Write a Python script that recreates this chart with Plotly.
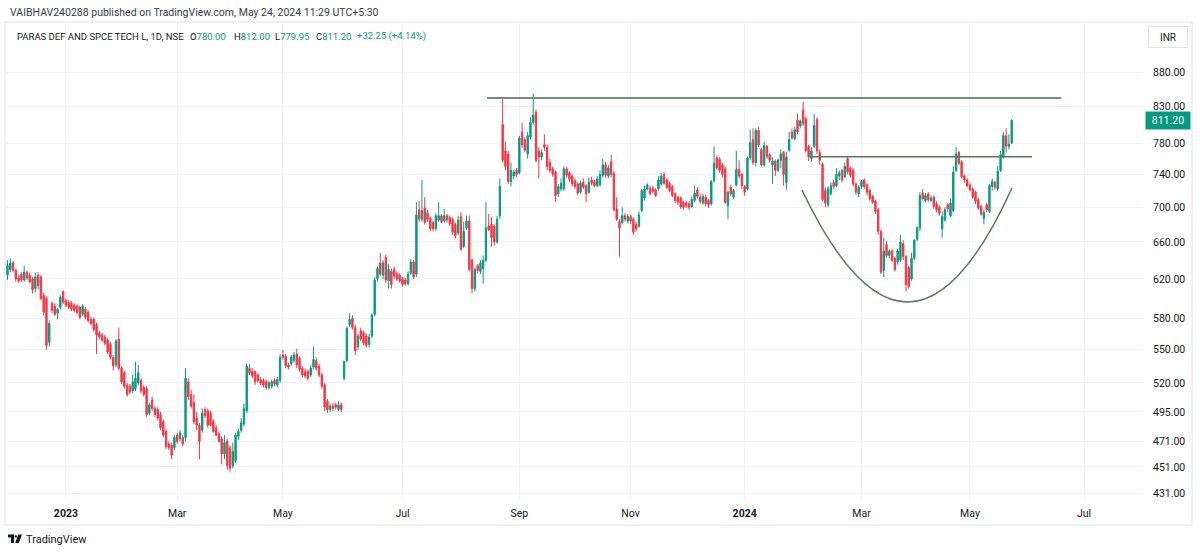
import numpy as np
import plotly.graph_objects as go

# ---------------- data (daily candles Dec-2022 .. 24-May-2024) ----------------
open_px = [
    624,630,637,629,621,625,619,627,624,620,610,624,622,603,600,557,595,592,585,591,607,
    598,596,595,593,592,591,584,589,586,579,579,574,566,564,562,559,555,543,536,560,533,529,518,517,513,515,520,522,516,515,494,505,498,497,493,487,479,469,468,466,476,473,474,474,521,510,503,490,484,480,497,496,
    494,487,482,477,473,461,471,466,452,456,475,480,485,496,533,530,530,527,523,522,521,516,517,522,518,522,545,544,536,537,540,546,542,533,530,530,527,534,540,535,527,518,504,497,500,501,497,501,
    524,540,574,580,571,553,568,566,563,555,563,584,620,637,624,643,618,628,630,626,624,620,619,615,
    626,638,625,697,686,699,693,687,682,675,685,690,684,690,688,686,680,670,689,655,676,684,640,610,634,628,631,640,678,680,678,660,690,805,770,766,731,738,745,742,
    795,785,766,788,808,822,770,762,778,775,755,747,743,716,722,722,747,742,738,732,728,718,730,726,718,733,731,726,727,739,752,738,
    756,741,698,683,682,690,684,689,686,680,678,696,711,722,723,723,721,722,728,740,733,729,725,716,712,711,706,705,704,701,
    708,721,712,705,712,708,704,732,761,759,752,747,702,724,712,727,746,740,725,722,761,785,755,797,772,752,776,765,752,757,
    745,758,768,730,771,795,786,811,803,825,813,776,
    760,776,812,768,753,720,703,716,730,726,738,745,737,760,748,745,728,716,725,733,727,720,713,707,697,672,629,657,645,650,
    642,638,640,658,644,632,620,642,663,676,717,708,716,708,712,704,700,675,685,703,690,696,745,768,756,738,733,727,722,718,
    709,701,687,703,695,725,730,722,745,763,790,776,780,
]
high_px = [
    640,642,639,631,625,627,634,629,627,622,626,627,624,606,602,578,597,595,590,603,608,
    600,598,597,595,594,593,594,591,588,581,581,576,568,566,564,561,557,545,560,571,535,531,520,519,527,539,536,524,518,517,503,508,500,499,495,489,481,471,470,476,478,480,476,533,524,514,510,495,486,498,499,498,
    496,489,484,479,475,476,473,468,470,478,481,490,502,537,537,533,531,529,525,524,523,522,523,524,525,546,550,546,538,545,548,551,544,535,533,532,536,553,543,537,529,520,506,502,503,503,504,503,
    540,572,585,583,574,565,571,568,565,565,585,622,633,648,640,646,636,631,633,628,626,622,621,628,
    641,640,706,707,733,712,697,689,684,693,706,692,698,692,690,688,682,690,694,683,690,690,642,632,636,640,645,706,692,688,680,690,735,843,782,770,755,746,748,790,
    808,788,795,815,848,826,775,772,792,778,760,750,745,728,735,750,750,744,740,735,731,732,735,728,736,737,733,738,745,760,756,752,
    765,744,712,686,700,693,692,691,688,683,695,722,726,729,726,726,723,738,742,743,735,731,727,718,714,713,708,708,707,712,
    726,724,716,716,715,710,733,776,764,762,755,750,720,727,722,770,758,742,727,763,798,800,800,802,774,782,778,767,762,759,
    760,772,770,769,795,800,802,820,812,837,816,778,
    775,820,815,772,755,724,725,730,733,748,745,747,755,762,750,748,730,727,733,735,729,722,715,709,699,674,665,661,652,652,
    644,652,668,662,646,634,648,663,678,718,722,717,718,714,714,707,702,695,700,705,710,750,775,770,758,740,735,729,724,720,
    711,703,697,705,728,735,732,751,770,795,800,792,812,
]
low_px = [
    619,627,627,617,616,617,617,619,616,605,606,609,598,583,550,553,585,582,579,589,594,
    591,589,587,586,584,579,582,579,576,573,567,546,560,557,554,546,541,531,534,531,519,515,508,510,511,513,518,511,508,491,492,496,491,488,480,474,465,464,457,464,469,471,467,471,505,498,485,480,457,478,490,482,
    483,478,475,470,453,457,449,447,450,454,472,478,483,494,527,524,518,520,518,516,514,514,515,517,516,520,541,533,532,535,538,533,530,525,524,522,525,532,531,525,515,496,494,495,496,497,496,495,
    522,538,572,569,545,550,558,554,552,552,561,582,618,623,620,616,610,610,620,618,616,612,613,613,
    624,620,622,683,683,680,683,672,672,673,683,681,682,682,678,668,664,668,650,653,674,628,605,607,626,625,615,638,672,655,656,658,686,755,745,728,725,734,737,740,
    774,768,760,785,805,755,735,758,770,745,742,737,706,712,719,720,736,731,725,722,714,716,722,706,716,726,724,724,725,736,736,735,
    736,695,684,644,680,683,681,680,668,672,676,694,708,720,714,717,712,720,726,727,722,718,712,705,703,698,697,699,697,699,
    706,710,704,703,701,699,702,730,746,742,736,704,686,713,710,725,735,722,714,720,758,752,750,775,750,750,760,755,728,738,
    743,748,726,721,769,785,784,792,800,803,768,757,
    756,774,766,752,707,700,700,714,722,724,733,730,735,740,736,725,715,712,722,722,714,708,704,692,668,625,622,643,642,638,
    628,635,638,640,607,610,618,640,661,672,708,706,706,706,698,694,690,665,683,694,688,694,743,752,735,730,724,719,710,704,
    697,690,680,694,693,720,721,720,743,760,768,772,779.95,
]
close_px = [
    634,637,629,620,618,619,627,621,617,609,622,613,600,586,554,575,588,584,589,601,596,
    593,591,589,588,586,581,592,581,578,575,569,564,562,559,556,548,543,535,558,533,521,517,510,512,521,524,529,513,510,493,501,498,493,490,482,476,467,466,460,474,471,478,469,524,508,500,487,484,471,494,492,484,
    484,479,476,471,461,470,452,450,463,476,479,486,498,535,529,526,521,522,520,518,516,520,521,519,523,543,543,535,534,543,545,536,532,527,526,524,533,541,533,527,517,499,497,500,498,499,501,497,
    539,570,579,571,549,563,560,556,554,562,583,619,631,625,637,619,630,614,623,620,618,614,615,625,
    638,622,691,686,696,682,686,675,675,690,690,683,690,685,681,671,667,685,652,672,684,630,610,630,629,637,640,676,674,665,660,686,725,758,750,731,745,743,740,787,
    778,771,790,808,818,758,762,768,775,750,745,740,714,725,729,747,739,734,728,725,717,729,724,716,730,729,726,734,740,752,739,748,
    740,697,686,676,690,686,689,684,671,675,691,720,722,727,716,719,714,733,738,729,724,720,714,708,706,700,700,702,700,709,
    717,713,707,713,704,703,731,754,748,745,740,706,718,716,720,746,738,726,718,761,781,755,797,778,752,777,763,758,757,745,
    758,766,740,762,785,787,798,795,810,806,770,762,
    770,804,770,758,709,705,722,726,725,740,742,733,750,743,739,728,718,724,731,725,718,710,706,695,672,627,650,645,650,640,
    630,650,660,644,614,612,642,662,676,714,710,714,709,711,701,697,693,689,697,698,705,743,766,754,737,733,726,721,712,707,
    699,692,694,697,726,731,724,744,765,790,776,778.95,811.2,
]

# time axis: bar index of the first session of each labelled month
time_tick_index = [21, 61, 99, 142, 184, 224, 265, 307, 346, 387]
time_tick_label = ["2023", "Mar", "May", "Jul", "Sep", "Nov", "2024", "Mar", "May", "Jul"]
price_ticks = [431, 451, 471, 495, 520, 550, 580, 620, 660, 700, 740, 780, 830, 880]

symbol_title = "PARAS DEF AND SPCE TECH L, 1D, NSE"
publisher = "VAIBHAV240288 published on TradingView.com, May 24, 2024 11:29 UTC+5:30"

# hand-drawn study lines (price levels and cup curve anchors: bar index, price)
resistance_level = 842.0
resistance_span = (172.4, 378.8)
neckline_level = 762.5
neckline_span = (288.5, 368.3)
cup_anchor_left = (285.6, 720.7)
cup_anchor_ctrl = (324.1, 492.5)
cup_anchor_right = (361.1, 723.2)

n = len(close_px)
assert len(open_px) == n and len(high_px) == n and len(low_px) == n
x = np.arange(n)

# ---------------- layout geometry ----------------
W, H = 1200, 553
ML, MR, MT, MB = 5, 57, 22, 53
PW, PH = W - ML - MR, H - MT - MB
Y_LO, Y_HI = np.log10(426.5), np.log10(957.7)
X_LO, X_HI = -0.9, 408.2

UP, DN = "#089981", "#F23645"
FONT = "Roboto"
TXT = "#131722"


def pxx(px):
    return (px - ML) / PW


def pxy(py):
    return (H - MB - py) / PH


def yp(price):
    return (np.log10(price) - Y_LO) / (Y_HI - Y_LO)


fig = go.Figure()
fig.add_trace(go.Candlestick(
    x=x, open=open_px, high=high_px, low=low_px, close=close_px,
    increasing=dict(line=dict(color=UP, width=1), fillcolor=UP),
    decreasing=dict(line=dict(color=DN, width=1), fillcolor=DN),
    whiskerwidth=0, hoverinfo="skip", showlegend=False,
))

line_col = "#55795a"
shapes = [
    # chart frame
    dict(type="rect", xref="paper", yref="paper", x0=0, x1=pxx(1192), y0=pxy(525), y1=1,
         line=dict(color="#e0e3eb", width=1), fillcolor="rgba(0,0,0,0)", layer="below"),
    dict(type="line", xref="x", yref="paper", x0=resistance_span[0], x1=resistance_span[1],
         y0=yp(resistance_level), y1=yp(resistance_level), line=dict(color="#6f9270", width=2)),
    dict(type="line", xref="x", yref="paper", x0=neckline_span[0], x1=neckline_span[1],
         y0=yp(neckline_level), y1=yp(neckline_level), line=dict(color=line_col, width=1.5)),
    dict(type="path", xref="x", yref="paper",
         path=(f"M {cup_anchor_left[0]},{yp(cup_anchor_left[1])} "
               f"Q {cup_anchor_ctrl[0]},{yp(cup_anchor_ctrl[1])} "
               f"{cup_anchor_right[0]},{yp(cup_anchor_right[1])}"),
         line=dict(color=line_col, width=1.5)),
]

# TradingView logo (small glyph) at the bottom-left
logo = "#131722"
shapes += [
    dict(type="path", xref="paper", yref="paper",
         path=(f"M {pxx(8)},{pxy(534.5)} L {pxx(14)},{pxy(534.5)} L {pxx(14)},{pxy(543)} "
               f"L {pxx(11)},{pxy(543)} L {pxx(11)},{pxy(537.5)} L {pxx(8)},{pxy(537.5)} Z"),
         fillcolor=logo, line=dict(width=0)),
    dict(type="circle", xref="paper", yref="paper", x0=pxx(14.6), x1=pxx(17), y0=pxy(537.6), y1=pxy(535.2),
         fillcolor=logo, line=dict(width=0)),
    dict(type="path", xref="paper", yref="paper",
         path=(f"M {pxx(18.2)},{pxy(534.5)} L {pxx(22)},{pxy(534.5)} L {pxx(18.8)},{pxy(543)} "
               f"L {pxx(15.2)},{pxy(543)} Z"),
         fillcolor=logo, line=dict(width=0)),
]

ann = []
ann.append(dict(text=publisher, xref="paper", yref="paper", x=pxx(8), y=pxy(12),
                xanchor="left", yanchor="middle", showarrow=False,
                font=dict(family=FONT, size=10.5, color="#3a3d45")))

# legend row: symbol name, then O/H/L/C and change, each at its own position
LEG = 9.5
chg = close_px[-1] - close_px[-2]
pct = chg / close_px[-2] * 100
ann.append(dict(text=symbol_title, xref="paper", yref="paper", x=pxx(15), y=pxy(36),
                xanchor="left", yanchor="middle", showarrow=False,
                font=dict(family=FONT, size=LEG, color=TXT)))
legend_parts = [
    (188, f"O<span style='color:{UP}'>{open_px[-1]:.2f}</span>"),
    (232, f"H<span style='color:{UP}'>{high_px[-1]:.2f}</span>"),
    (273, f"L<span style='color:{UP}'>{low_px[-1]:.2f}</span>"),
    (314, f"C<span style='color:{UP}'>{close_px[-1]:.2f}</span>"),
    (355, f"<span style='color:{UP}'>{chg:+.2f} ({pct:+.2f}%)</span>"),
]
for px_left, txt in legend_parts:
    ann.append(dict(text=txt, xref="paper", yref="paper", x=pxx(px_left), y=pxy(36),
                    xanchor="left", yanchor="middle", showarrow=False,
                    font=dict(family=FONT, size=LEG, color=TXT)))

# currency box
ann.append(dict(text="INR", xref="paper", yref="paper", x=pxx(1168), y=pxy(37),
                xanchor="center", yanchor="middle", showarrow=False,
                bordercolor="#e0e3eb", borderwidth=1, borderpad=3, bgcolor="white",
                width=32, height=14, font=dict(family=FONT, size=10, color=TXT)))
# last price label
ann.append(dict(text=f"{close_px[-1]:.2f}", xref="paper", yref="paper", x=pxx(1145), y=yp(close_px[-1]),
                xanchor="left", yanchor="middle", showarrow=False,
                bgcolor=UP, borderpad=2, width=40, font=dict(family=FONT, size=10.5, color="white")))
# bottom brand text
ann.append(dict(text="TradingView", xref="paper", yref="paper", x=pxx(24), y=pxy(539),
                xanchor="left", yanchor="middle", showarrow=False,
                font=dict(family=FONT, size=11, color=TXT)))

fig.update_layout(
    width=W, height=H, autosize=False,
    margin=dict(l=ML, r=MR, t=MT, b=MB, pad=0),
    paper_bgcolor="white", plot_bgcolor="white",
    font=dict(family=FONT, size=10.5, color=TXT),
    showlegend=False, hovermode=False, dragmode=False,
    shapes=shapes, annotations=ann,
    xaxis=dict(
        range=[X_LO, X_HI], rangeslider=dict(visible=False),
        tickmode="array", tickvals=time_tick_index,
        ticktext=[f"<b>{t}</b>" if t.isdigit() else t for t in time_tick_label],
        showgrid=True, gridcolor="#f0f3fa", gridwidth=1,
        zeroline=False, showline=False, ticks="", ticklabelstandoff=5,
        tickfont=dict(family=FONT, size=10.5, color=TXT), fixedrange=True,
    ),
    yaxis=dict(
        type="log", range=[Y_LO, Y_HI], side="right",
        tickmode="array", tickvals=price_ticks, ticktext=[f"{v:.2f}" for v in price_ticks],
        showgrid=True, gridcolor="#f0f3fa", gridwidth=1,
        zeroline=False, showline=False, ticks="", ticklabelstandoff=9,
        tickfont=dict(family=FONT, size=10.5, color=TXT), fixedrange=True,
    ),
)

fig.write_html("out.html", config={"displayModeBar": False, "staticPlot": True},
               post_script="document.body.style.margin='0';document.body.style.overflow='hidden';")
